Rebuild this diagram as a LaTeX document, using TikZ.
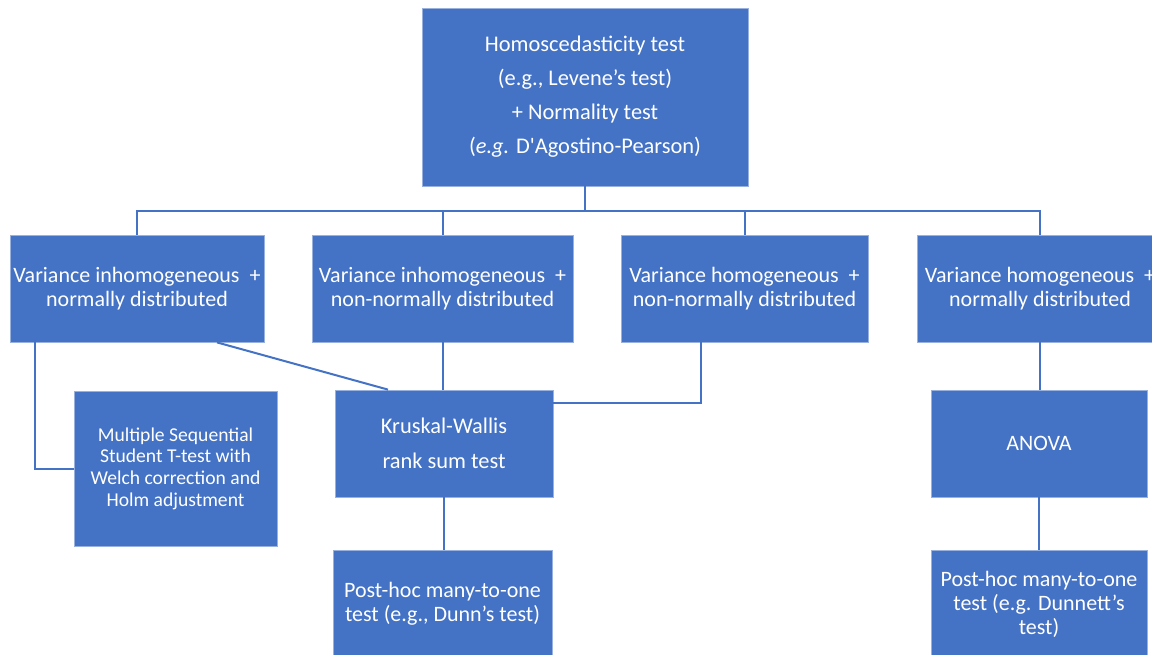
\documentclass[tikz,border=0pt]{standalone}
\usepackage{fontspec}
\setmainfont{Carlito}[Ligatures=TeXOff]
\usepackage{tikz}
\usetikzlibrary{positioning}
\definecolor{boxblue}{HTML}{4472C4}

\begin{document}
\begin{tikzpicture}[
                x=0.5pt, y=-0.5pt,
                every node/.style={fill=boxblue, draw=boxblue!55!white, line width=0.4pt, rectangle, align=center, text=white, inner sep=0pt, font=\fontsize{11}{12}\selectfont},
                line/.style={-, draw=boxblue, line width=1pt}]

            \useasboundingbox (0,0) rectangle (1152,654);

            % Tests
            \node[minimum width=163pt, minimum height=89pt, font=\fontsize{11.2}{17}\selectfont] (top) at (585,97)
                {Homoscedasticity test\\(e.g., Levene’s test)\\+ Normality test\\(\textit{e.g.} D'Agostino-Pearson)};

            \node[minimum width=127pt, minimum height=53.5pt] (vinn) at (137,288.5) {Variance inhomogeneous \ +\\normally distributed};
            \node[minimum width=130.5pt, minimum height=53.5pt] (vinnn) at (442.5,288.5) {Variance inhomogeneous \ +\\non-normally distributed};
            \node[minimum width=123.5pt, minimum height=53.5pt] (vhnn) at (744.5,288.5) {Variance homogeneous \ +\\non-normally distributed};
            \node[minimum width=123pt, minimum height=53.5pt] (vhn) at (1040,288.5) {Variance homogeneous \ +\\normally distributed};

            \node[minimum width=101.5pt, minimum height=77.5pt, font=\fontsize{9.8}{10.8}\selectfont] (welch) at (175.5,468.5)
                {Multiple Sequential\\Student T-test with\\Welch correction and\\Holm adjustment};
            \node[minimum width=109pt, minimum height=53.5pt, font=\fontsize{11.2}{17.5}\selectfont] (kw) at (444,443.5) {Kruskal-Wallis\\rank sum test};
            \node[minimum width=108pt, minimum height=53.5pt] (anova) at (1039,443.5) {ANOVA};

            \node[minimum width=109.5pt, minimum height=54pt] (dunn) at (442.5,604) {Post-hoc many-to-one\\test (e.g., Dunn’s test)};
            \node[minimum width=108pt, minimum height=54pt] (dunnett) at (1039,604) {Post-hoc many-to-one\\test (e.g. Dunnett’s\\test)};

            % Liens
            \coordinate (bus) at (585,211);
            \draw[line] (top.south) -- (bus);
            \draw[line] (vinn.north) -- (vinn.north |- bus) -- (vhn.north |- bus) -- (vhn.north);
            \draw[line] (vinnn.north) -- (vinnn.north |- bus);
            \draw[line] (vhnn.north) -- (vhnn.north |- bus);

            \draw[line] ([xshift=12.5pt]vinn.south west) |- (welch.west);
            \draw[line] ([xshift=40pt]vinn.south) -- ([xshift=-28pt]kw.north);
            \draw[line] (vinnn.south) -- (vinnn.south |- kw.north);
            \draw[line] ([xshift=-22pt]vhnn.south) |- ([yshift=-6.5pt]kw.north east);
            \draw[line] (kw.south) -- (kw.south |- dunn.north);

            \draw[line] (vhn.south) -- (vhn.south |- anova.north);
            \draw[line] (anova.south) -- (dunnett.north);

        \end{tikzpicture}
\end{document}
